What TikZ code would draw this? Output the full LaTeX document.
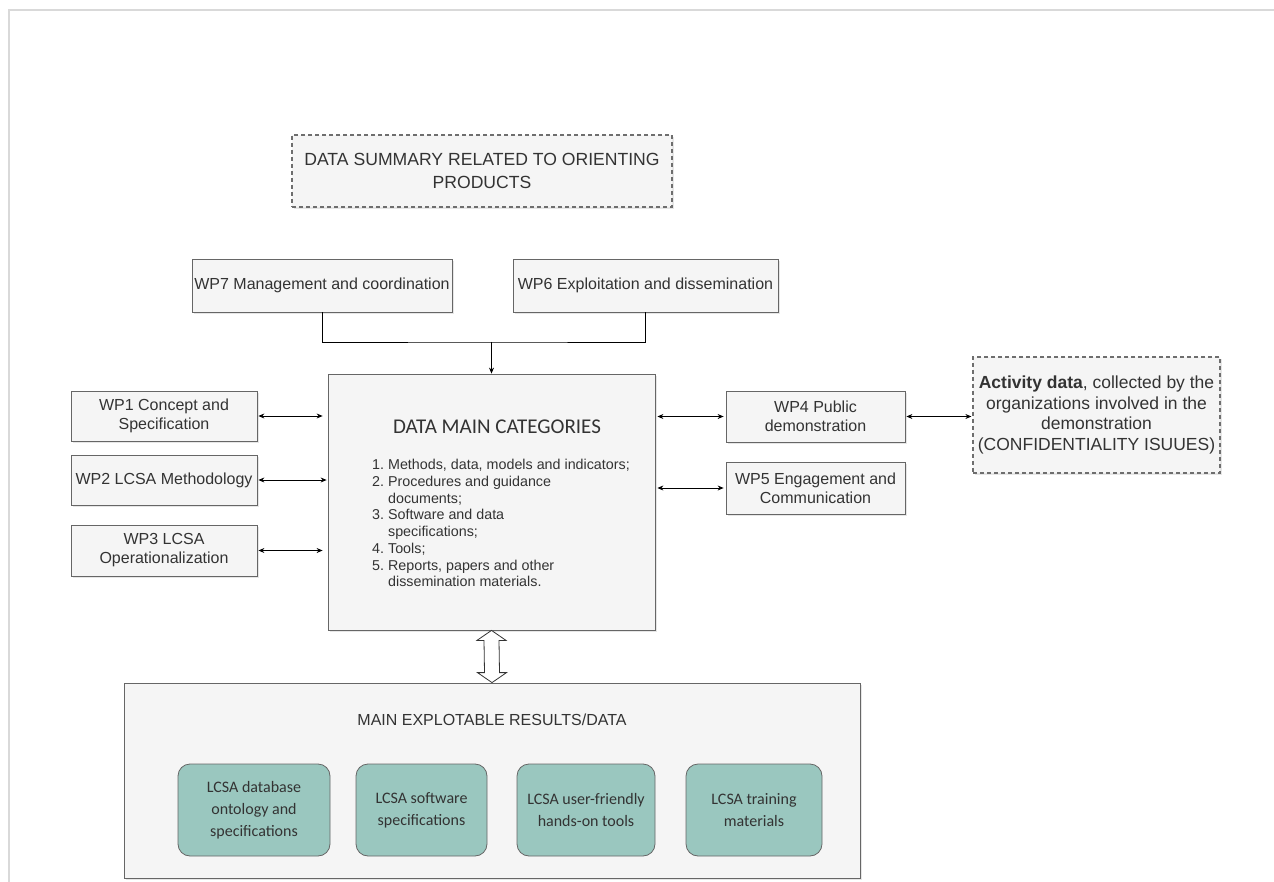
\documentclass[tikz,border=0pt]{standalone}
\usepackage{fontspec}
\setmainfont{Liberation Sans}
\newfontfamily\calibfont{Carlito}
\usetikzlibrary{arrows.meta,shadows,calc}
\definecolor{boxfill}{HTML}{F5F5F5}
\definecolor{boxline}{HTML}{666666}
\definecolor{dashline}{HTML}{6E6E6E}
\definecolor{txt}{HTML}{333333}
\definecolor{tealfill}{HTML}{9AC7BF}
\definecolor{framegray}{HTML}{D9D9D9}

\begin{document}
\begin{tikzpicture}[x=1pt,y=1pt]
            \tikzstyle{every node}+=[inner sep=0pt, text=txt, font=\fontsize{16}{19}\selectfont]
            \tikzstyle{wpbox}=[draw=boxline, fill=boxfill, align=center, line width=0.8pt,
                drop shadow={shadow xshift=2pt, shadow yshift=-2pt, opacity=0.2}]
            \tikzstyle{notebox}=[wpbox, draw=dashline, dash pattern=on 4pt off 3pt, line width=1.2pt]
            \tikzstyle{tealbox}=[draw=boxline, fill=tealfill, rounded corners=12pt, align=center,
                line width=0.8pt, font=\calibfont\fontsize{16}{22}\selectfont]
            \tikzstyle{link}=[black, line width=0.8pt, {Stealth[length=6pt,width=5pt]}-{Stealth[length=6pt,width=5pt]}]
            \useasboundingbox (0,0) rectangle (1274,-882);
            \draw [framegray, line width=1.5pt] (9,-882) -- (9,-10) -- (1274,-10);
            % top of the picture
            \node (summary) [notebox, minimum width=380pt, minimum height=72pt, font=\fontsize{17.6}{23}\selectfont] at (482,-171) {DATA SUMMARY RELATED TO ORIENTING\\PRODUCTS};
            \node (wp7) [wpbox, minimum width=260pt, minimum height=53pt] at (322,-285.5) {WP7 Management and coordination};
            \node (wp6) [wpbox, minimum width=265pt, minimum height=53pt] at (645.5,-285.5) {WP6 Exploitation and dissemination};
            % centre box
            \node (main) [wpbox, minimum width=327pt, minimum height=256pt] at (491.5,-502) {};
            \node (maintitle) at (497,-427) {\calibfont\fontsize{21}{24}\selectfont DATA MAIN CATEGORIES};
            \node (mainlist) [anchor=north west, font=\fontsize{14.3}{16.7}\selectfont] at (372,-458)
                {\begin{tabular}{@{}r@{\hspace{4pt}}l@{}}
                 1. & Methods, data, models and indicators;\\
                 2. & Procedures and guidance\\
                    & documents;\\
                 3. & Software and data\\
                    & specifications;\\
                 4. & Tools;\\
                 5. & Reports, papers and other\\
                    & dissemination materials.
                 \end{tabular}};
            % left and right work packages
            \node (wp1) [wpbox, minimum width=186pt, minimum height=50pt] at (164,-416) {WP1 Concept and\\Specification};
            \node (wp2) [wpbox, minimum width=186pt, minimum height=50pt] at (164,-480) {WP2 LCSA Methodology};
            \node (wp3) [wpbox, minimum width=186pt, minimum height=51pt] at (164,-550.5) {WP3 LCSA\\Operationalization};
            \node (wp4) [wpbox, minimum width=179pt, minimum height=51pt] at (815.5,-416.5) {WP4 Public\\demonstration};
            \node (wp5) [wpbox, minimum width=179pt, minimum height=52pt] at (815.5,-488) {WP5 Engagement and\\Communication};
            \node (act) [notebox, minimum width=247pt, minimum height=116pt, font=\fontsize{17.5}{20.8}\selectfont] at (1096.5,-415)
                {\textbf{Activity data}, collected by the\\organizations involved in the\\demonstration\\(CONFIDENTIALITY ISUUES)};
            % results
            \node (res) [wpbox, minimum width=736pt, minimum height=195pt] at (492,-780.5) {};
            \node (restitle) at (492,-720) {MAIN EXPLOTABLE RESULTS/DATA};
            \node (r1) [tealbox, minimum width=152pt, minimum height=92pt] at (254,-810) {LCSA database\\ontology and\\specifications};
            \node (r2) [tealbox, minimum width=131pt, minimum height=92pt] at (421.5,-810) {LCSA software\\specifications};
            \node (r3) [tealbox, minimum width=138pt, minimum height=92pt] at (586,-810) {LCSA user-friendly\\hands-on tools};
            \node (r4) [tealbox, minimum width=136pt, minimum height=92pt] at (754,-810) {LCSA training\\materials};
            % connectors
            \coordinate (join) at (491.5,-342);
            \draw [black, line width=0.8pt] (wp7.south) |- (join) -| (wp6.south);
            \draw [black, line width=0.8pt, -{Stealth[length=6pt,width=5pt]}] (join) -- (main.north);
            \draw [link, shorten <=1pt, shorten >=5pt] (wp1.east) -- (wp1.east -| main.west);
            \draw [link, shorten <=1pt, shorten >=1pt] (wp2.east) -- (wp2.east -| main.west);
            \draw [link, shorten <=1pt, shorten >=5pt] (wp3.east) -- (wp3.east -| main.west);
            \draw [link, shorten <=2pt, shorten >=2pt] (wp4.west -| main.east) -- (wp4.west);
            \draw [link, shorten <=2pt, shorten >=2pt] (wp5.west -| main.east) -- (wp5.west);
            \draw [link, shorten <=1pt, shorten >=1pt] (wp4.east) -- (wp4.east -| act.west);
            \draw [txt, fill=white, line width=0.8pt] (main.south) -- ++(14.5,-10) -- ++(-7,0)
                -- ($(res.north)+(7.5,10)$) -- ++(7,0) -- (res.north) -- ++(-14.5,10) -- ++(7,0)
                -- ($(main.south)+(-7.5,-10)$) -- ++(-7,0) -- cycle;
        \end{tikzpicture}
\end{document}
